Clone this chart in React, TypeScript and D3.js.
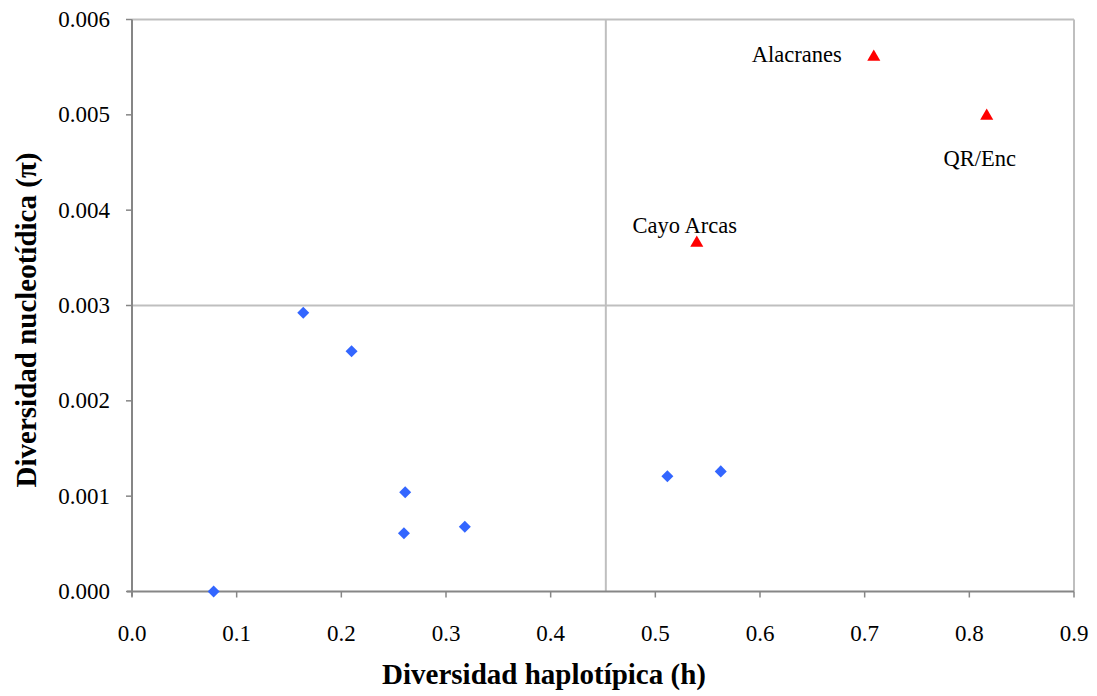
import React from "react";
import * as d3 from "d3";

const blueH = [0.078, 0.1636, 0.2098, 0.261, 0.2598, 0.318, 0.5115, 0.5625];
const bluePi = [0.0, 0.002925, 0.00252, 0.00104, 0.00061, 0.00068, 0.00121, 0.00126];

const redNames = ["Cayo Arcas", "Alacranes", "QR/Enc"];
const redH = [0.5396, 0.7087, 0.8166];
const redPi = [0.003666, 0.005617, 0.004998];

const xTicks = [0, 0.1, 0.2, 0.3, 0.4, 0.5, 0.6, 0.7, 0.8, 0.9];
const yTicks = [0, 0.001, 0.002, 0.003, 0.004, 0.005, 0.006];
const refH = 0.4527;
const refPi = 0.003;

const W = 1097;
const H = 696;
const m = { left: 132, right: 1074, top: 19.5, bottom: 591.5 };

export default function App() {
  const x = d3.scaleLinear().domain([0, 0.9]).range([m.left, m.right]);
  const y = d3.scaleLinear().domain([0, 0.006]).range([m.bottom, m.top]);
  const font = '"Liberation Serif", "Times New Roman", serif';
  const ts = { fontFamily: font };
  const diamond = d3.symbol().type(d3.symbolDiamond2).size(92)();
  const tri = d3.symbol().type(d3.symbolTriangle).size(74)();
  const labelPos: { dx: number; dy: number; anchor: string }[] = [
    { dx: -12, dy: -9, anchor: "middle" },
    { dx: -32, dy: 6, anchor: "end" },
    { dx: -7, dy: 51, anchor: "middle" },
  ];
  return (
    <svg width={W} height={H} style={{ position: "absolute", left: 0, top: 0, background: "#fff" }}>
      <line x1={m.left} x2={m.right} y1={m.top} y2={m.top} stroke="#bfbfbf" strokeWidth={2} />
      <line x1={m.right} x2={m.right} y1={m.top} y2={m.bottom} stroke="#bfbfbf" strokeWidth={2} />
      <line x1={x(refH)} x2={x(refH)} y1={m.top} y2={m.bottom} stroke="#bfbfbf" strokeWidth={2} />
      <line x1={m.left} x2={m.right} y1={y(refPi)} y2={y(refPi)} stroke="#bfbfbf" strokeWidth={2} />
      <line x1={m.left} x2={m.left} y1={m.top} y2={m.bottom + 5} stroke="#868686" strokeWidth={2} />
      <line x1={m.left - 5} x2={m.right} y1={m.bottom} y2={m.bottom} stroke="#868686" strokeWidth={2} />
      {xTicks.map((t) => (
        <g key={"x" + t}>
          <line x1={x(t)} x2={x(t)} y1={m.bottom} y2={m.bottom + 6} stroke="#868686" strokeWidth={1.5} />
          <text x={x(t)} y={m.bottom + 49.5} textAnchor="middle" fontSize={23} fill="#000" style={ts}>
            {t.toFixed(1)}
          </text>
        </g>
      ))}
      {yTicks.map((t) => (
        <g key={"y" + t}>
          <line x1={m.left - 6} x2={m.left} y1={y(t)} y2={y(t)} stroke="#868686" strokeWidth={1.5} />
          <text x={m.left - 22} y={y(t) + 7.5} textAnchor="end" fontSize={23} fill="#000" style={ts}>
            {t.toFixed(3)}
          </text>
        </g>
      ))}
      {blueH.map((h, i) => (
        <path key={"b" + i} d={diamond} transform={`translate(${x(h)},${y(bluePi[i])})`} fill="#3366ff" />
      ))}
      {redH.map((h, i) => (
        <g key={"r" + i}>
          <path d={tri} transform={`translate(${x(h)},${y(redPi[i]) + 1})`} fill="#ff0000" />
          <text
            x={x(h) + labelPos[i].dx}
            y={y(redPi[i]) + labelPos[i].dy}
            textAnchor={labelPos[i].anchor}
            fontSize={22.5}
            fill="#000"
            style={ts}
          >
            {redNames[i]}
          </text>
        </g>
      ))}
      <text x={544} y={684} textAnchor="middle" fontSize={29} fontWeight="bold" fill="#000" style={ts}>
        Diversidad haplotípica (h)
      </text>
      <text
        transform={`translate(36,${320}) rotate(-90)`}
        textAnchor="middle"
        fontSize={29}
        fontWeight="bold"
        fill="#000"
        style={ts}
      >
        Diversidad nucleotídica (π)
      </text>
    </svg>
  );
}
